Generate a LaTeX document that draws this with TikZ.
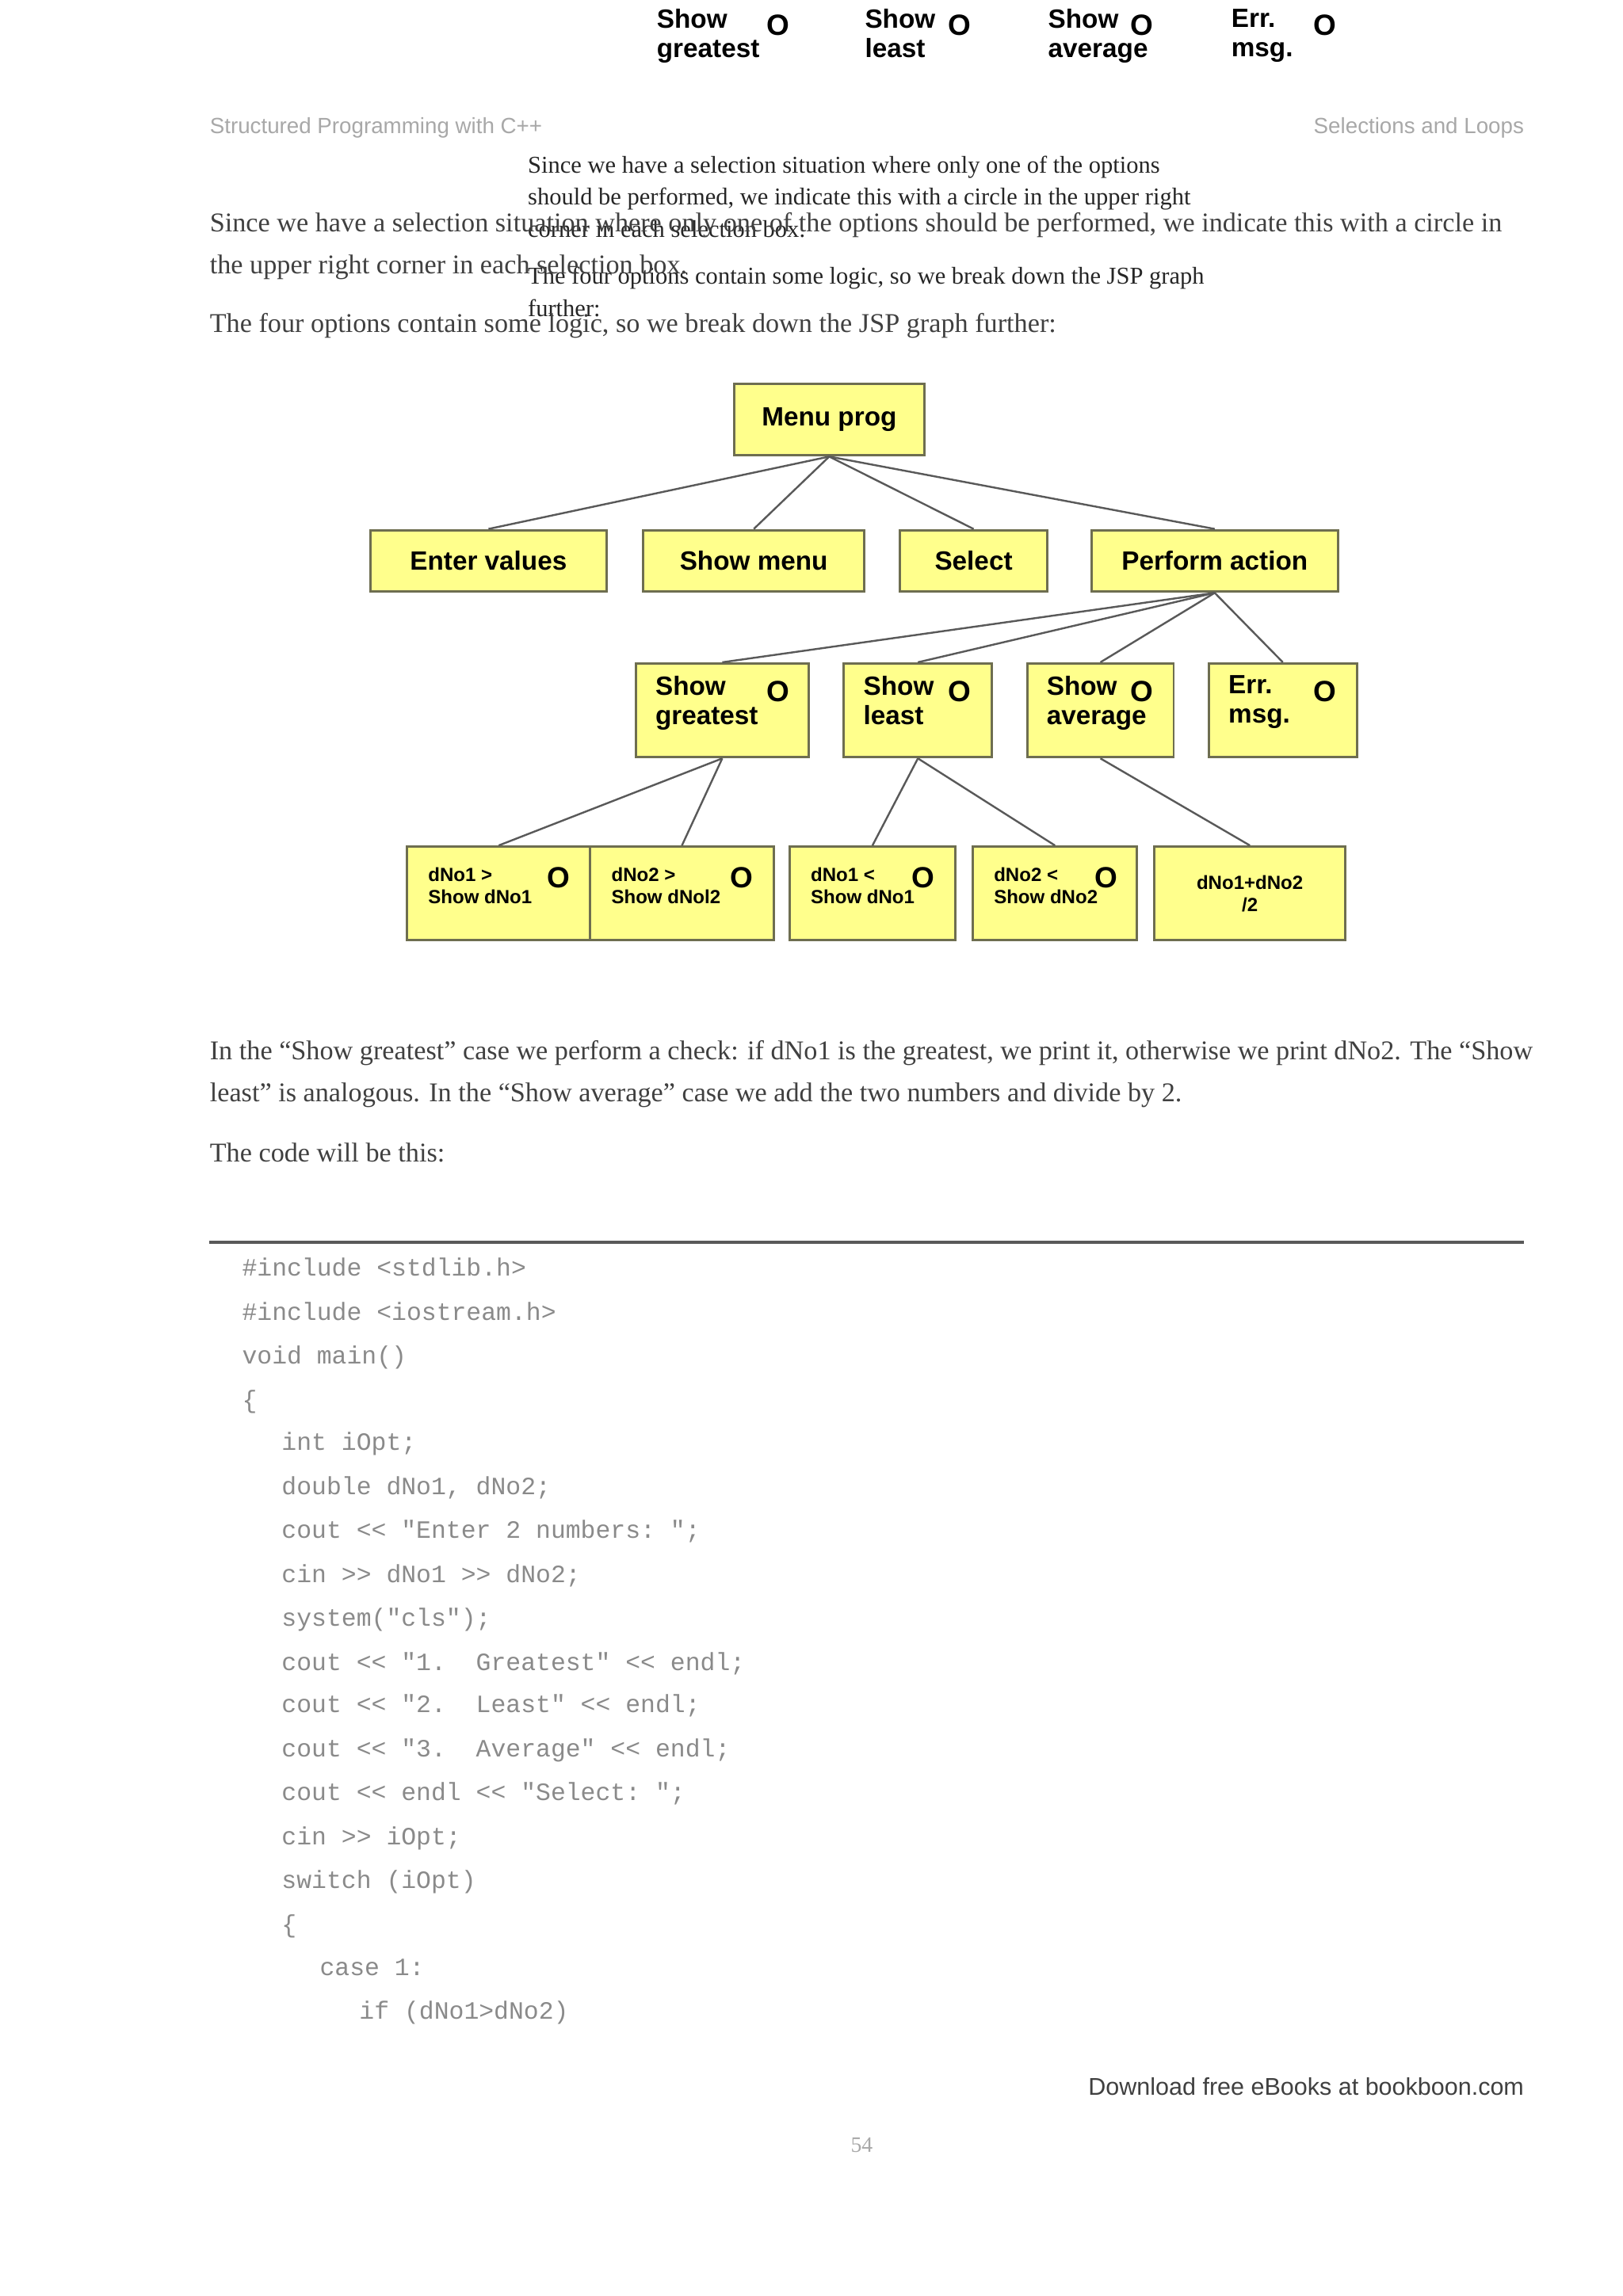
\documentclass[tikz,border=0pt]{standalone}
\usepackage{fontspec}
\setmainfont{Liberation Serif}
\setsansfont{Liberation Sans}
\setmonofont{Liberation Mono}
\definecolor{boxy}{HTML}{FFFF8C}
\definecolor{boxb}{HTML}{6E6E50}
\definecolor{codeg}{HTML}{8A8A8A}
\definecolor{hdr}{HTML}{A8A8A8}
\begin{document}
\begin{tikzpicture}[x=1pt,y=-1pt,
  jbox/.style={draw=boxb,line width=1.6pt,fill=boxy,inner sep=0pt},
  blab/.style={font=\sffamily\bfseries\fontsize{18}{20}\selectfont,align=left},
  slab/.style={font=\sffamily\bfseries\fontsize{13}{15}\selectfont,align=left},
  circ/.style={font=\sffamily\bfseries\fontsize{20}{20}\selectfont},
  body/.style={font=\fontsize{18.5}{20}\selectfont,anchor=base west,inner sep=0pt,text=black!75},
  obody/.style={font=\fontsize{16.5}{20}\selectfont,anchor=base west,inner sep=0pt,text=black!85},
  code/.style={font=\ttfamily\fontsize{17}{20}\selectfont,anchor=base west,inner sep=0pt,text=codeg},
  conn/.style={draw=black!65,line width=1.3pt}]
\useasboundingbox[fill=white] (0,0) rectangle (1107,1567);
% top fragment
\node[blab,anchor=north west,inner sep=0pt] (f1) at (448,6) {Show\\greatest};
\node[circ] (f1c) at (531,17) {O};
\node[blab,anchor=north west,inner sep=0pt] (f2) at (590,6) {Show\\least};
\node[circ] (f2c) at (655,17) {O};
\node[blab,anchor=north west,inner sep=0pt] (f3) at (715,6) {Show\\average};
\node[circ] (f3c) at (779,17) {O};
\node[blab,anchor=north west,inner sep=0pt] (f4) at (840,6) {Err.\\msg.};
\node[circ] (f4c) at (904,17) {O};
% header
\node[font=\sffamily\fontsize{15}{18}\selectfont,text=hdr,anchor=base west,inner sep=0pt] (h1) at (143,91) {Structured Programming with C++};
\node[font=\sffamily\fontsize{15}{18}\selectfont,text=hdr,anchor=base east,inner sep=0pt] (h2) at (1040,91) {Selections and Loops};
% overlapping text
\node[obody] (o1) at (360,118) {Since we have a selection situation where only one of the options};
\node[obody] (o2) at (360,140) {should be performed, we indicate this with a circle in the upper right};
\node[obody] (o3) at (360,162) {corner in each selection box.};
\node[obody] (o4) at (360,194) {The four options contain some logic, so we break down the JSP graph};
\node[obody] (o5) at (360,216) {further:};
% body text
\node[body] (b1) at (143,158) {Since we have a selection situation where only one of the options should be performed, we indicate this with a circle in};
\node[body] (b2) at (143,187) {the upper right corner in each selection box.};
\node[body] (b3) at (143,227) {The four options contain some logic, so we break down the JSP graph further:};
% diagram
\node[jbox,minimum width=130,minimum height=49,anchor=north west] (mp) at (500,261) {};
\node[blab] at (mp) {Menu prog};
\node[jbox,minimum width=161,minimum height=42,anchor=north west] (ev) at (252,361) {};
\node[blab] at (ev) {Enter values};
\node[jbox,minimum width=151,minimum height=42,anchor=north west] (sm) at (438,361) {};
\node[blab] at (sm) {Show menu};
\node[jbox,minimum width=101,minimum height=42,anchor=north west] (se) at (613,361) {};
\node[blab] at (se) {Select};
\node[jbox,minimum width=168,minimum height=42,anchor=north west] (pa) at (744,361) {};
\node[blab] at (pa) {Perform action};
\foreach \n/\x/\w/\t/\c in {sg/433/118/{Show\\greatest}/531, sl/575/101/{Show\\least}/655, sa/700/100/{Show\\average}/779, em/824/101/{Err.\\msg.}/904}{
  \node[jbox,minimum width=\w,minimum height=64,anchor=north west] (\n) at (\x,452) {};
  \node[blab,anchor=north west,inner sep=0pt] (\n t) at (\x+14,461) {\t};
  \node[circ] (\n c) at (\c,472) {O};
}
\foreach \n/\x/\w/\t/\c in {d1/277/125/{dNo1 >\\Show dNo1}/381, d2/402/125/{dNo2 >\\Show dNol2}/506, d3/538/113/{dNo1 <\\Show dNo1}/630, d4/663/112/{dNo2 <\\Show dNo2}/755}{
  \node[jbox,minimum width=\w,minimum height=64,anchor=north west] (\n) at (\x,577) {};
  \node[slab,anchor=north west,inner sep=0pt] (\n t) at (\x+15,592) {\t};
  \node[circ] (\n c) at (\c,599) {O};
}
\node[jbox,minimum width=130,minimum height=64,anchor=north west] (d5) at (787,577) {};
\node[slab,align=center] at (d5) {dNo1+dNo2\\/2};
\foreach \b in {ev,sm,se,pa} \draw[conn] (mp.south) -- (\b.north);
\foreach \b in {sg,sl,sa,em} \draw[conn] (pa.south) -- (\b.north);
\draw[conn] (sg.south) -- (d1.north);
\draw[conn] (sg.south) -- (d2.north);
\draw[conn] (sl.south) -- (d3.north);
\draw[conn] (sl.south) -- (d4.north);
\draw[conn] (sa.south) -- (d5.north);
% text below
\node[body] (t1) at (143,723) {In the ``Show greatest'' case we perform a check: if dNo1 is the greatest, we print it, otherwise we print dNo2. The ``Show};
\node[body] (t2) at (143,752) {least'' is analogous. In the ``Show average'' case we add the two numbers and divide by 2.};
\node[body] (t3) at (143,793) {The code will be this:};
\coordinate (la) at (143,848); \coordinate (lb) at (1040,848);
\draw[black!65,line width=2pt] (la) -- (lb);
% code
\node[code] at (165,871) {\#include <stdlib.h>};
\node[code] at (165,901) {\#include <iostream.h>};
\node[code] at (165,931) {void main()};
\node[code] at (165,961) {\{};
\node[code] at (192,990) {int iOpt;};
\node[code] at (192,1020) {double dNo1, dNo2;};
\node[code] at (192,1050) {cout << "Enter 2 numbers: ";};
\node[code] at (192,1080) {cin >> dNo1 >> dNo2;};
\node[code] at (192,1110) {system("cls");};
\node[code] at (192,1140) {cout << "1.\ \ Greatest" << endl;};
\node[code] at (192,1169) {cout << "2.\ \ Least" << endl;};
\node[code] at (192,1199) {cout << "3.\ \ Average" << endl;};
\node[code] at (192,1229) {cout << endl << "Select: ";};
\node[code] at (192,1259) {cin >> iOpt;};
\node[code] at (192,1289) {switch (iOpt)};
\node[code] at (192,1319) {\{};
\node[code] at (218,1348) {case 1:};
\node[code] at (245,1378) {if (dNo1>dNo2)};
% footer
\node[font=\sffamily\fontsize{16.5}{18}\selectfont,text=black!75,anchor=base east,inner sep=0pt] (ft) at (1040,1430) {Download free eBooks at bookboon.com};
\node[font=\fontsize{15}{18}\selectfont,text=hdr,anchor=base,inner sep=0pt] (pg) at (588,1469) {54};
\end{tikzpicture}
\end{document}
